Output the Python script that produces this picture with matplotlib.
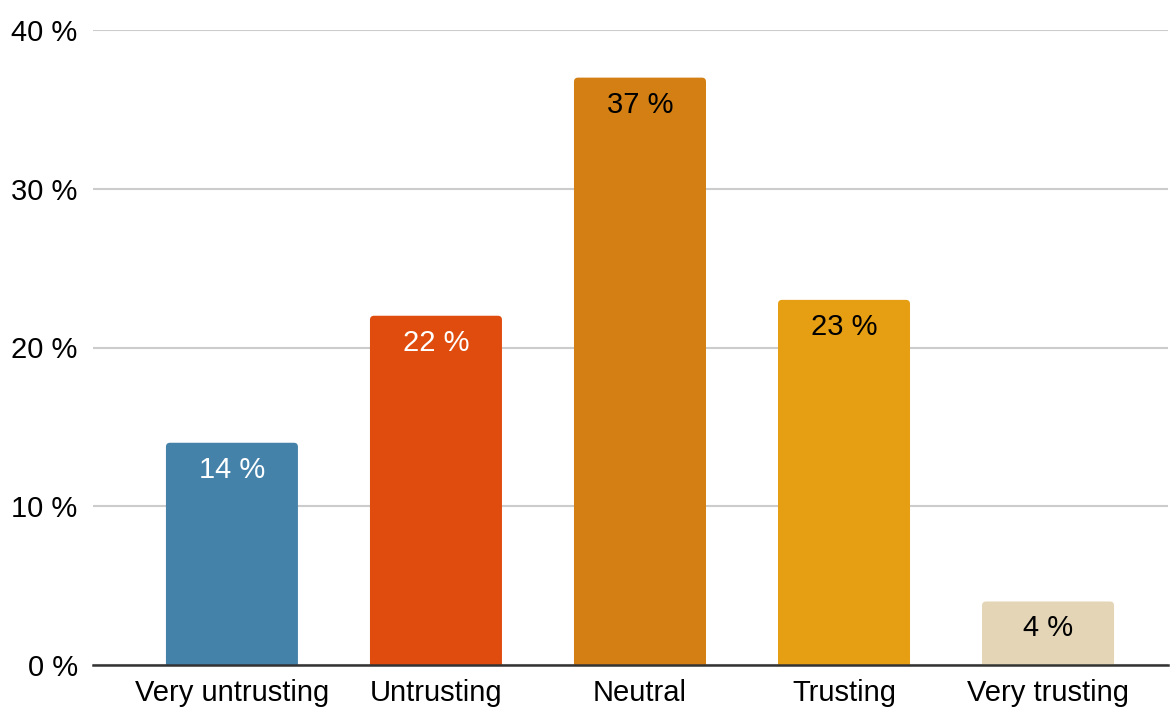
import matplotlib.pyplot as plt
from matplotlib.patches import FancyBboxPatch

plt.rcParams['font.family'] = ['Liberation Sans', 'DejaVu Sans']

categories = ['Very untrusting', 'Untrusting', 'Neutral', 'Trusting', 'Very trusting']
values = [14, 22, 37, 23, 4]
colors = ['#4582aa', '#e04c0e', '#d47f13', '#e69e13', '#e3d5b5']
label_colors = ['white', 'white', 'black', 'black', 'black']
yticks = [0, 10, 20, 30, 40]

fig = plt.figure(figsize=(11.7, 7.09), dpi=100)
ax = fig.add_axes([93 / 1170, 44 / 709, 1075 / 1170, 635 / 709])

ax.set_xlim(-0.681, 4.588)
ax.set_ylim(0, 40)

# bars with slightly rounded corners
width = 0.647
aspect = (40 / 635) / (5.269 / 1075)
for i, (v, c) in enumerate(zip(values, colors)):
    p = FancyBboxPatch((i - width / 2, -1), width, v + 1,
                       boxstyle='round,pad=0,rounding_size=0.02',
                       mutation_aspect=aspect, fc=c, ec='none', zorder=2)
    ax.add_patch(p)
    ax.text(i, v - 1.7, f'{v} %', ha='center', va='center',
            fontsize=21, color=label_colors[i], zorder=3)

ax.set_xticks(range(len(categories)))
ax.set_xticklabels(categories, fontsize=21)
ax.set_yticks(yticks)
ax.set_yticklabels([f'{t} %' for t in yticks], fontsize=21)
ax.tick_params(axis='x', length=0, pad=10)
ax.tick_params(axis='y', length=0, pad=11)

ax.grid(axis='y', color='#cccccc', lw=1.5, zorder=0)
for s in ['top', 'right', 'left']:
    ax.spines[s].set_visible(False)
ax.spines['bottom'].set_color('#333333')
ax.spines['bottom'].set_linewidth(1.8)
ax.spines['bottom'].set_zorder(4)

fig.savefig('out.png', dpi=100)
